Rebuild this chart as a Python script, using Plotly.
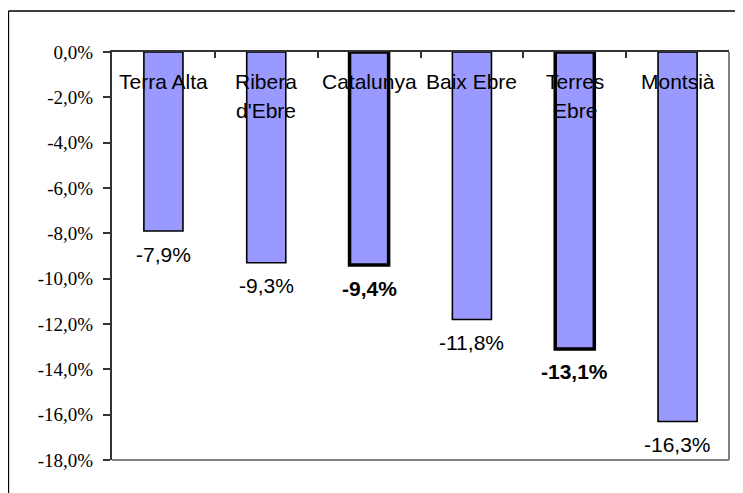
import plotly.graph_objects as go

categories = ["Terra Alta", "Ribera d'Ebre", "Catalunya", "Baix Ebre", "Terres Ebre", "Montsià"]
label_lines = [["Terra Alta"], ["Ribera", "d'Ebre"], ["Catalunya"], ["Baix Ebre"], ["Terres", "Ebre"], ["Montsià"]]
values = [-7.9, -9.3, -9.4, -11.8, -13.1, -16.3]
value_labels = ["-7,9%", "-9,3%", "-9,4%", "-11,8%", "-13,1%", "-16,3%"]
highlight = [False, False, True, False, True, False]
y_tickvals = [0, -2, -4, -6, -8, -10, -12, -14, -16, -18]
y_ticktext = ["0,0%", "-2,0%", "-4,0%", "-6,0%", "-8,0%", "-10,0%", "-12,0%", "-14,0%", "-16,0%", "-18,0%"]

# page body has an 8px margin; figure is shifted by it and runs past the window edge
OFF = 8
W, H = 743, 493
ML, MT = 112 - OFF, 52 - OFF
PR, PB = 729 - OFF, 460 - OFF
MR, MB = W - PR, H - PB

fig = go.Figure()
fig.add_trace(go.Bar(
    x=categories, y=values,
    width=0.38,
    marker=dict(color="#9999FF",
                line=dict(color="#000000", width=[3.5 if h else 1.6 for h in highlight])),
    hoverinfo="skip",
))

annotations = []
for cat, lines in zip(categories, label_lines):
    for i, ln in enumerate(lines):
        annotations.append(dict(
            x=cat, y=0, xref="x", yref="y", text=ln, showarrow=False,
            yanchor="middle", yshift=-29 - 29 * i,
            font=dict(family="Arial", size=21, color="#000000"),
        ))
for cat, v, lab, h in zip(categories, values, value_labels, highlight):
    annotations.append(dict(
        x=cat, y=v, xref="x", yref="y", text=(f"<b>{lab}</b>" if h else lab),
        showarrow=False, yanchor="middle", yshift=-23,
        font=dict(family="Arial", size=21, color="#000000"),
    ))

plot_w = W - ML - MR
plot_h = H - MT - MB
fx0 = (8.5 - OFF - ML) / plot_w
fy1 = (PB - (11 - OFF)) / plot_h
shapes = [
    # outer chart frame (top and left edges; right/bottom fall outside the window)
    dict(type="line", xref="paper", yref="paper", x0=fx0, x1=1.05, y0=fy1, y1=fy1,
         line=dict(color="#000000", width=1.3), layer="below"),
    dict(type="line", xref="paper", yref="paper", x0=fx0, x1=fx0, y0=-0.2, y1=fy1,
         line=dict(color="#000000", width=1.3), layer="below"),
    # right and bottom plot-area border
    dict(type="line", xref="paper", yref="paper", x0=1, x1=1, y0=0, y1=1,
         line=dict(color="#808080", width=2)),
    dict(type="line", xref="paper", yref="paper", x0=0, x1=1, y0=0, y1=0,
         line=dict(color="#808080", width=2)),
]

fig.update_layout(
    width=W, height=H,
    margin=dict(l=ML, r=MR, t=MT, b=MB, pad=0),
    paper_bgcolor="#FFFFFF", plot_bgcolor="#FFFFFF",
    showlegend=False,
    annotations=annotations,
    shapes=shapes,
    xaxis=dict(type="category", side="top", range=[-0.5, 5.5],
               showline=True, linecolor="#333333", linewidth=2,
               ticks="inside", tickson="boundaries", ticklen=6, tickcolor="#333333", tickwidth=1.5,
               showticklabels=False, showgrid=False, zeroline=False, fixedrange=True),
    yaxis=dict(range=[-18, 0], tickvals=y_tickvals, ticktext=y_ticktext,
               showline=True, linecolor="#333333", linewidth=2,
               ticks="outside", ticklen=7, tickcolor="#333333", tickwidth=1.5,
               ticklabelstandoff=6,
               tickfont=dict(family="Liberation Serif", size=19, color="#000000"),
               showgrid=False, zeroline=False, fixedrange=True),
)

fig.write_html("out.html")
